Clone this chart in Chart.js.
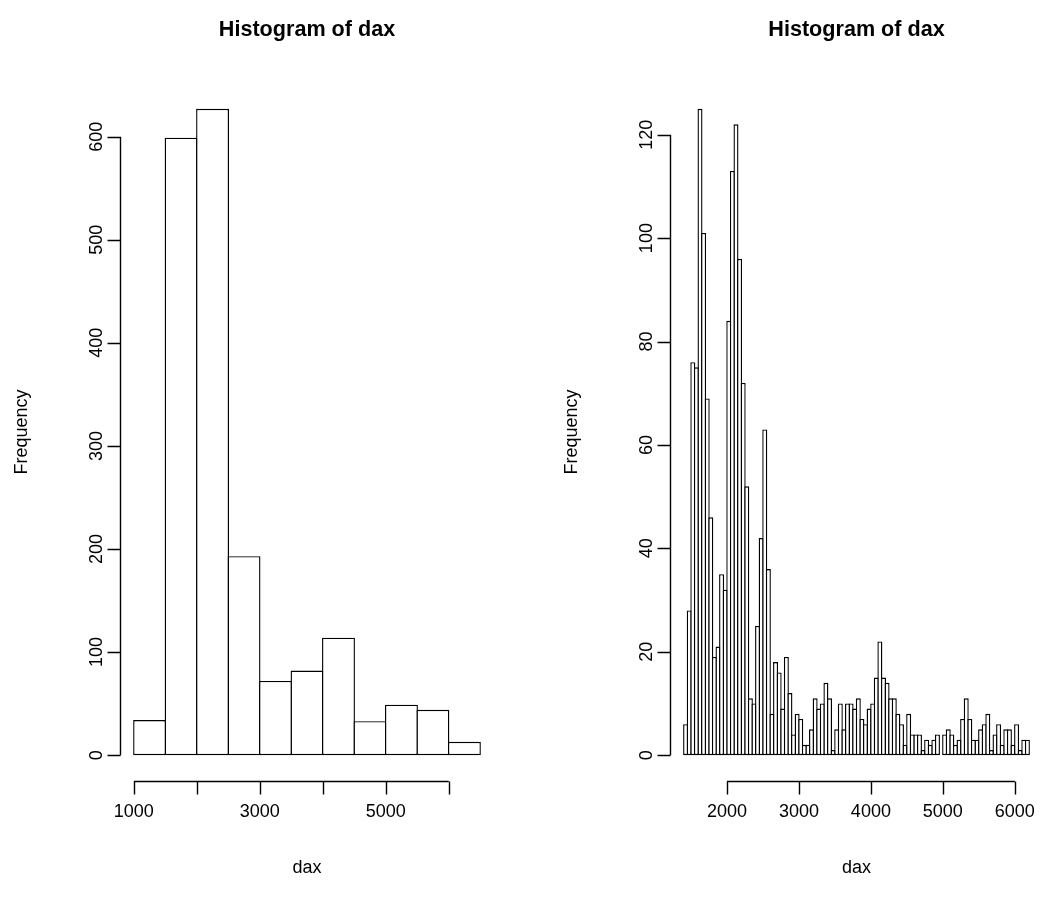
<!DOCTYPE html>
<html>
<head>
<meta charset="utf-8">
<title>Histogram of dax</title>
<script src="https://cdn.jsdelivr.net/npm/chart.js@4.4.1/dist/chart.umd.min.js"></script>
<style>
  html, body { margin: 0; padding: 0; background: #fff; }
  #wrap { position: relative; width: 1048px; height: 897px; }
  .panel { position: absolute; top: 0; width: 524px; height: 897px; }
</style>
</head>
<body>
<div id="wrap">
  <div class="panel" style="left:0"><canvas id="left" width="524" height="897"></canvas></div>
  <div class="panel" style="left:524px"><canvas id="right" width="524" height="897"></canvas></div>
</div>
<script>
// left histogram: 500-wide bins
const leftBreaks = [1000, 1500, 2000, 2500, 3000, 3500, 4000, 4500, 5000, 5500, 6000, 6500];
const leftCounts = [34, 599, 627, 193, 72, 82, 114, 33, 49, 44, 13];
const leftXTicks = [1000, 2000, 3000, 4000, 5000, 6000];
const leftXTickLabels = ['1000', '', '3000', '', '5000', ''];
const leftYTicks = [0, 100, 200, 300, 400, 500, 600];
const leftYTickLabels = ['0', '100', '200', '300', '400', '500', '600'];

// right histogram: 50-wide bins from 1400 to 6200
const rightBreakStart = 1400;
const rightBreakWidth = 50;
const rightCounts = [
  6, 28, 76, 75, 125, 101, 69, 46, 19, 21,
  35, 32, 84, 113, 122, 96, 72, 52, 11, 10,
  25, 42, 63, 36, 8, 18, 16, 9, 19, 12,
  4, 8, 7, 2, 2, 5, 11, 9, 10, 14,
  11, 1, 5, 10, 5, 10, 10, 9, 11, 7,
  6, 9, 10, 15, 22, 15, 14, 11, 11, 8,
  6, 2, 8, 4, 4, 4, 1, 3, 2, 3,
  4, 0, 4, 5, 4, 2, 3, 7, 11, 7,
  3, 3, 5, 6, 8, 1, 4, 6, 2, 5,
  5, 2, 6, 1, 3, 3
];
const rightBreaks = [];
for (let i = 0; i <= rightCounts.length; i++) rightBreaks.push(rightBreakStart + i * rightBreakWidth);
const rightXTicks = [2000, 3000, 4000, 5000, 6000];
const rightXTickLabels = ['2000', '3000', '4000', '5000', '6000'];
const rightYTicks = [0, 20, 40, 60, 80, 100, 120];
const rightYTickLabels = ['0', '20', '40', '60', '80', '100', '120'];

const titleText = 'Histogram of dax';
const xTitle = 'dax';
const yTitle = 'Frequency';

const FONT = '"Liberation Sans", Arial, Helvetica, sans-serif';
const LINE = 1.4;

// R style axes, drawn at the scale's pixels
const rAxes = {
  id: 'rAxes',
  afterDraw(chart, args, o) {
    const { ctx, chartArea: a, scales: { x, y } } = chart;
    ctx.save();
    ctx.strokeStyle = '#000';
    ctx.fillStyle = '#000';
    ctx.lineWidth = LINE;

    // x axis
    const by = Math.round(a.bottom) + 0.5;
    ctx.beginPath();
    ctx.moveTo(x.getPixelForValue(o.xTicks[0]), by);
    ctx.lineTo(x.getPixelForValue(o.xTicks[o.xTicks.length - 1]), by);
    o.xTicks.forEach(v => {
      const px = Math.round(x.getPixelForValue(v)) + 0.5;
      ctx.moveTo(px, by);
      ctx.lineTo(px, by + 13);
    });
    // y axis
    const lx = Math.round(a.left) + 0.5;
    ctx.moveTo(lx, y.getPixelForValue(o.yTicks[0]));
    ctx.lineTo(lx, y.getPixelForValue(o.yTicks[o.yTicks.length - 1]));
    o.yTicks.forEach(v => {
      const py = Math.round(y.getPixelForValue(v)) + 0.5;
      ctx.moveTo(lx, py);
      ctx.lineTo(lx - 13, py);
    });
    ctx.stroke();

    ctx.font = '18px ' + FONT;
    ctx.textAlign = 'center';
    ctx.textBaseline = 'middle';
    o.xTicks.forEach((v, i) => {
      if (o.xLabels[i]) ctx.fillText(o.xLabels[i], x.getPixelForValue(v), by + 31);
    });
    o.yTicks.forEach((v, i) => {
      ctx.save();
      ctx.translate(lx - 23, y.getPixelForValue(v));
      ctx.rotate(-Math.PI / 2);
      ctx.fillText(o.yLabels[i], 0, 0);
      ctx.restore();
    });

    const cx = (a.left + a.right) / 2;
    ctx.fillText(xTitle, cx, 868);
    ctx.save();
    ctx.translate(lx - 98, (a.top + a.bottom) / 2);
    ctx.rotate(-Math.PI / 2);
    ctx.fillText(yTitle, 0, 0);
    ctx.restore();

    ctx.font = 'bold 21.6px ' + FONT;
    ctx.fillText(titleText, cx, 30);
    ctx.restore();
  }
};

function makeHist(id, breaks, counts, xTicks, xLabels, yTicks, yLabels, padding) {
  const lo = breaks[0], hi = breaks[breaks.length - 1];
  const xPad = (hi - lo) * 0.04;
  const yMax = Math.max(...counts);
  const yPad = yMax * 0.04;
  const data = counts.map((c, i) => ({ x: (breaks[i] + breaks[i + 1]) / 2, y: c }));
  const binPx = (padding.w) / (hi - lo + 2 * xPad) * (breaks[1] - breaks[0]);

  return new Chart(document.getElementById(id), {
    type: 'bar',
    data: {
      datasets: [{
        data: data,
        backgroundColor: '#ffffff',
        borderColor: '#000000',
        borderWidth: LINE,
        borderSkipped: false,
        barPercentage: (binPx + LINE) / binPx,
        categoryPercentage: 1
      }]
    },
    options: {
      responsive: false,
      animation: false,
      devicePixelRatio: 1,
      layout: { padding: { left: padding.left, right: padding.right, top: 83, bottom: 116 } },
      plugins: {
        legend: { display: false },
        tooltip: { enabled: false },
        rAxes: { xTicks, xLabels, yTicks, yLabels }
      },
      scales: {
        x: { type: 'linear', offset: false, min: lo - xPad, max: hi + xPad, display: false },
        y: { min: -yPad, max: yMax + yPad, display: false }
      }
    },
    plugins: [rAxes]
  });
}

makeHist('left', leftBreaks, leftCounts, leftXTicks, leftXTickLabels, leftYTicks, leftYTickLabels,
  { left: 120, right: 30, w: 374 });
makeHist('right', rightBreaks, rightCounts, rightXTicks, rightXTickLabels, rightYTicks, rightYTickLabels,
  { left: 146, right: 5, w: 373 });
</script>
</body>
</html>
